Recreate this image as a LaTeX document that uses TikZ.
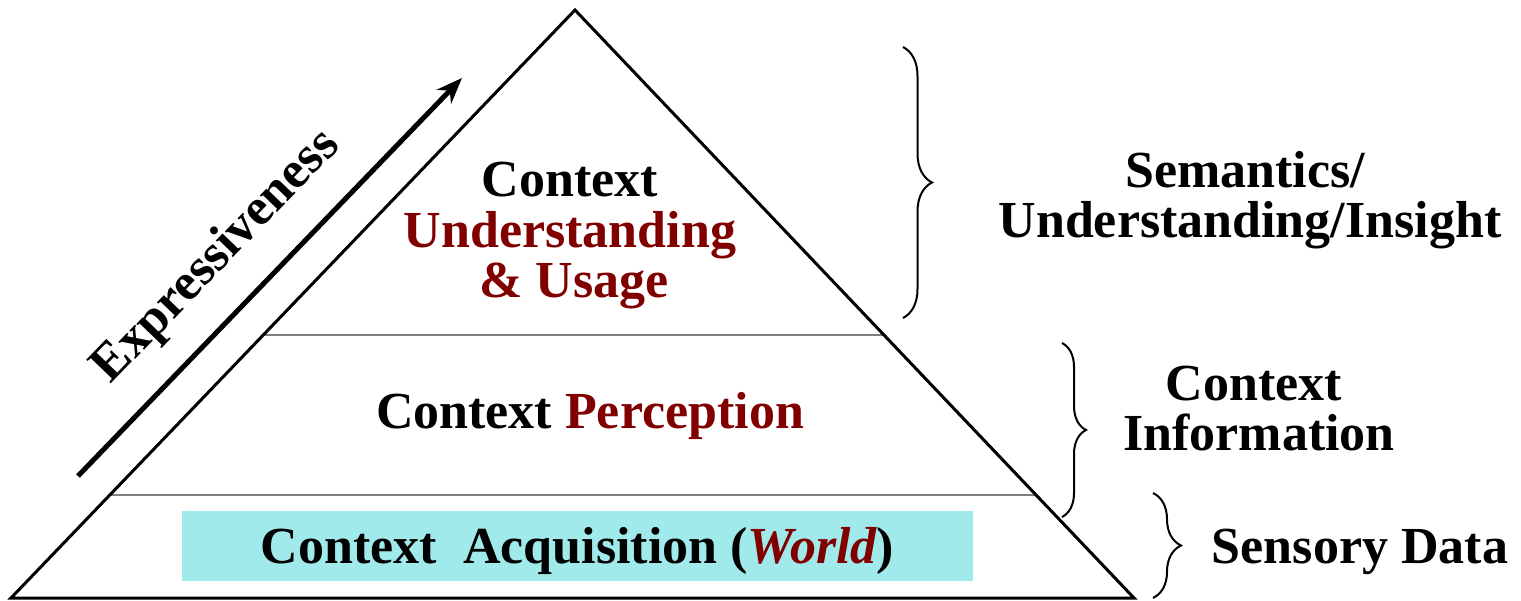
\documentclass[tikz,border=0pt]{standalone}
\usepackage{fontspec}
\setmainfont{Liberation Serif}
\usetikzlibrary{arrows.meta,decorations.pathreplacing}
\definecolor{dred}{RGB}{128,0,0}
\definecolor{boxcyan}{RGB}{160,234,236}
\definecolor{divgray}{RGB}{128,128,128}
\begin{document}
\begin{tikzpicture}[x=1pt,y=-1pt,
  lbl/.style={font=\fontsize{52}{52}\selectfont\bfseries, inner sep=0pt, anchor=base, align=center},
  brc/.style={decorate, line width=2pt, decoration={brace, amplitude=#1}},
  divider/.style={draw=divgray, line width=2pt},
  pyr/.style={draw=black, line width=3pt, line join=miter},
]
\useasboundingbox (0,0) rectangle (1521,600);
% pyramid corners
\coordinate (apex) at (575,10);
\coordinate (bl) at (11,598);
\coordinate (br) at (1134,598);
% divider end points on the edges
\path (bl) -- (apex) coordinate[pos=0.4473] (l1) coordinate[pos=0.1752] (l2);
\path (br) -- (apex) coordinate[pos=0.4473] (r1) coordinate[pos=0.1752] (r2);
% cyan box
\node[fill=boxcyan, minimum width=791pt, minimum height=70pt, inner sep=0pt,
      font=\fontsize{52}{52}\selectfont\bfseries, text height=34pt, text depth=0pt]
  (acq) at (577.5,546) {Context\ \ Acquisition (\textcolor{dred}{\itshape World})};
% dividers
\draw[divider] (l1) -- (r1);
\draw[divider] (l2) -- (r2);
% triangle
\draw[pyr] (apex) -- (br) -- (bl) -- cycle;
% arrow
\coordinate (at) at (78,476);
\coordinate (ah) at (462,78);
\draw[line width=5pt, -{Stealth[length=26pt, width=20pt]}] (at) -- (ah);
\node[lbl, anchor=center, rotate=46] (expr) at (217,257) {Expressiveness};
% pyramid texts
\node[lbl] (t1) at (570,196) {Context};
\node[lbl, text=dred] (t2) at (570,247) {Understanding};
\node[lbl, text=dred] (t3) at (574,297) {\&\ Usage};
\node[lbl] (t4) at (590,428) {Context \textcolor{dred}{Perception}};
% braces
\coordinate (b1t) at (903,47);
\coordinate (b1b) at (903,318);
\coordinate (b2t) at (1062,343);
\coordinate (b2b) at (1062,517);
\coordinate (b3t) at (1153,493);
\coordinate (b3b) at (1153,598);
\draw[brc=29pt] (b1t) -- (b1b);
\draw[brc=24pt] (b2t) -- (b2b);
\draw[brc=28pt] (b3t) -- (b3b);
% right labels
\node[lbl] (s1) at (1245,187) {Semantics/};
\node[lbl] (s2) at (1250,237) {Understanding/Insight};
\node[lbl] (c1) at (1254,400) {Context};
\node[lbl] (c2) at (1259,450) {Information};
\node[lbl] (sd) at (1360,563) {Sensory Data};
\end{tikzpicture}
\end{document}
